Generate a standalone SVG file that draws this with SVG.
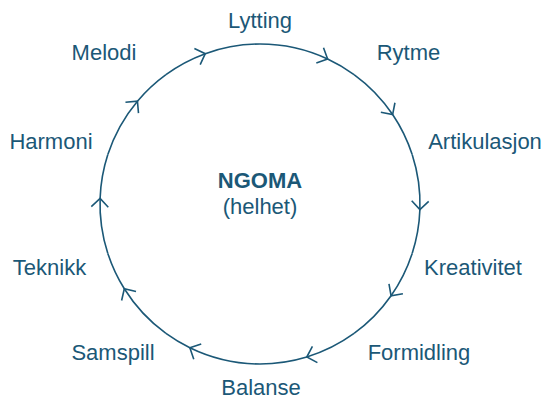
<svg xmlns="http://www.w3.org/2000/svg" width="544" height="399" viewBox="0 0 544 399">
<style>
  .lbl { font-family: "Liberation Sans", Arial, sans-serif; font-size: 22px; fill: #1b5877; text-anchor: middle; }
  .title { font-weight: bold; }
  .conn { fill: none; stroke: #1b5877; stroke-width: 1.6; marker-mid: url(#chev); }
</style>
<defs>
  <marker id="chev" markerUnits="userSpaceOnUse" markerWidth="20" markerHeight="20" refX="0" refY="0" viewBox="-10 -10 20 20" orient="auto" overflow="visible">
    <path d="M -8.5 -8.5 L 0 0 L -8.5 8.5" fill="none" stroke="#1b5877" stroke-width="1.6"/>
  </marker>
</defs>
<rect width="544" height="399" fill="#ffffff"/>
<g id="connectors">
  <path class="conn" d="M 260 44 A 160 160 0 0 1 327.62 58.99 A 160 160 0 0 1 354.05 74.56"/>
  <path class="conn" d="M 354.05 74.56 A 160 160 0 0 1 392.64 114.53 A 160 160 0 0 1 412.17 154.56"/>
  <path class="conn" d="M 412.17 154.56 A 160 160 0 0 1 419.90 209.58 A 160 160 0 0 1 412.17 253.44"/>
  <path class="conn" d="M 412.17 253.44 A 160 160 0 0 1 391.07 295.77 A 160 160 0 0 1 354.05 333.44"/>
  <path class="conn" d="M 354.05 333.44 A 160 160 0 0 1 306.78 357.01 A 160 160 0 0 1 260 364"/>
  <path class="conn" d="M 260 364 A 160 160 0 0 1 189.86 347.81 A 160 160 0 0 1 165.95 333.44"/>
  <path class="conn" d="M 165.95 333.44 A 160 160 0 0 1 124.32 288.78 A 160 160 0 0 1 107.83 253.44"/>
  <path class="conn" d="M 107.83 253.44 A 160 160 0 0 1 100.10 198.42 A 160 160 0 0 1 107.83 154.56"/>
  <path class="conn" d="M 107.83 154.56 A 160 160 0 0 1 137.44 101.15 A 160 160 0 0 1 165.95 74.56"/>
  <path class="conn" d="M 165.95 74.56 A 160 160 0 0 1 205.28 53.65 A 160 160 0 0 1 260 44"/>
</g>
<g id="center"><text class="lbl title" x="260" y="188">NGOMA</text><text class="lbl" x="260" y="214">(helhet)</text></g>
<g id="lytting"><text class="lbl" x="260" y="27.5">Lytting</text></g>
<g id="rytme"><text class="lbl" x="408.5" y="60">Rytme</text></g>
<g id="artikulasjon"><text class="lbl" x="485" y="148.5">Artikulasjon</text></g>
<g id="kreativitet"><text class="lbl" x="473" y="274.5">Kreativitet</text></g>
<g id="formidling"><text class="lbl" x="419" y="359.5">Formidling</text></g>
<g id="balanse"><text class="lbl" x="261" y="395">Balanse</text></g>
<g id="samspill"><text class="lbl" x="113" y="359.5">Samspill</text></g>
<g id="teknikk"><text class="lbl" x="49.5" y="274.5">Teknikk</text></g>
<g id="harmoni"><text class="lbl" x="51" y="148.5">Harmoni</text></g>
<g id="melodi"><text class="lbl" x="104" y="60">Melodi</text></g>
</svg>
